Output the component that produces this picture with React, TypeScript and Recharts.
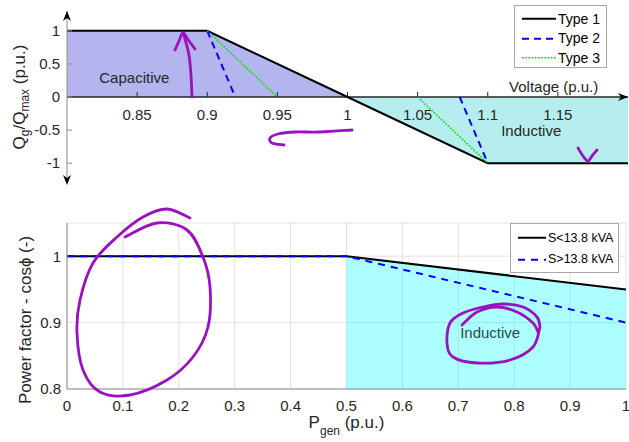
import React from "react";
import {
  ComposedChart,
  Line,
  Area,
  XAxis,
  YAxis,
  CartesianGrid,
  ReferenceLine,
  ReferenceDot,
  Legend,
} from "recharts";

const FONT = '"Liberation Sans", Arial, Helvetica, sans-serif';
const TEXT = "#262626";
const AXIS = "#8c8c8c";
const INK = "#9b10c0";

// ---- top panel: Q/Qmax vs voltage ----
const VOLT_TICKS = [0.85, 0.9, 0.95, 1, 1.05, 1.1, 1.15];
const Q_TICKS = [-1, -0.5, 0, 0.5, 1];

const TYPE1_V = [0.8, 0.9, 1.0, 1.1, 1.2];
const TYPE1_Q = [1, 1, 0, -1, -1];
const TYPE2_V = [0.9, 0.92, 1.0, 1.08, 1.1];
const TYPE2_Q = [1, 0, null, 0, -1];
const TYPE3_V = [0.9, 0.95, 1.0, 1.05, 1.1];
const TYPE3_Q = [1, 0, null, 0, -1];

// ---- bottom panel: power factor vs Pgen ----
const P_TICKS = [0, 0.1, 0.2, 0.3, 0.4, 0.5, 0.6, 0.7, 0.8, 0.9, 1];
const PF_TICKS = [0.8, 0.9, 1];
const P_GEN = [0, 0.5, 1];
const PF_SMALL = [1, 1, 0.95]; // S < 13.8 kVA
const PF_LARGE = [1, 1, 0.9]; // S > 13.8 kVA

const toRows = (xs: number[], ys: (number | null)[]) =>
  xs.map((v, i) => ({ v, q: ys[i] }));

const type1 = toRows(TYPE1_V, TYPE1_Q);
const type2 = toRows(TYPE2_V, TYPE2_Q);
const type3 = toRows(TYPE3_V, TYPE3_Q);
const capacitive = type1.filter((r) => r.v <= 1);
const inductive = type1.filter((r) => r.v >= 1);

const pfRows = P_GEN.map((p, i) => ({ p, small: PF_SMALL[i], large: PF_LARGE[i] }));
const pfFill = pfRows.filter((r) => r.p >= 0.5);

const TOP_W = 629;
const TOP_H = 200;
const TOP_MARGIN = { top: 11, right: 1, bottom: 0, left: 0 };
const TOP_XAXIS_H = 17;
const TOP_PLOT_H = TOP_H - TOP_MARGIN.top - TOP_MARGIN.bottom - TOP_XAXIS_H;

const BOT_H = 242;
const BOT_MARGIN = { top: 23, right: 3, bottom: 0, left: 0 };

function Arrow({ cx, cy, angle }: any) {
  return (
    <polygon
      points={`${cx},${cy} ${cx + 4},${cy + 10} ${cx},${cy + 7} ${cx - 4},${cy + 10}`}
      transform={`rotate(${angle}, ${cx}, ${cy})`}
      fill="#000"
    />
  );
}

// x ticks sit on the y=0 line (middle of the symmetric domain)
function VoltTick({ x, y, payload }: any) {
  const y0 = y - TOP_PLOT_H / 2;
  return (
    <g>
      <line x1={x} x2={x} y1={y0} y2={y0 - 5} stroke={TEXT} />
      <text x={x} y={y0 + 23} textAnchor="middle" fontSize={15} fill={TEXT}>
        {payload.value}
      </text>
    </g>
  );
}

function QTick({ x, y, payload }: any) {
  return (
    <g>
      <line x1={x + 7} x2={x + 12} y1={y} y2={y} stroke={AXIS} />
      <text x={x} y={y} dy={5} textAnchor="end" fontSize={15} fill={TEXT}>
        {payload.value}
      </text>
    </g>
  );
}

function TopYLabel({ viewBox }: any) {
  const cx = 25;
  const cy = viewBox.y + viewBox.height / 2;
  return (
    <text
      x={cx}
      y={cy}
      transform={`rotate(-90, ${cx}, ${cy})`}
      textAnchor="middle"
      fontSize={17}
      fill={TEXT}
    >
      Q<tspan fontSize={12} dy={4}>g</tspan>
      <tspan dy={-4}>/Q</tspan>
      <tspan fontSize={12} dy={4}>max</tspan>
      <tspan dy={-4}> (p.u.)</tspan>
    </text>
  );
}

function BotYLabel({ viewBox }: any) {
  const cx = 31;
  const cy = viewBox.y + viewBox.height / 2 + 14;
  return (
    <text
      x={cx}
      y={cy}
      transform={`rotate(-90, ${cx}, ${cy})`}
      textAnchor="middle"
      fontSize={17}
      fill={TEXT}
    >
      Power factor - cosϕ (-)
    </text>
  );
}

function PLabel({ viewBox }: any) {
  const cx = viewBox.x + viewBox.width / 2;
  return (
    <text x={cx} y={viewBox.y + 39} textAnchor="middle" fontSize={17} fill={TEXT}>
      P<tspan fontSize={12} dy={7}>gen</tspan>
      <tspan dy={-7}> (p.u.)</tspan>
    </text>
  );
}

function LegendBox({ payload, width, height, fontSize, lineLen, padTop, rowH }: any) {
  const items = (payload || []).filter((e: any) => e.type !== "none");
  return (
    <div
      style={{
        width,
        height,
        boxSizing: "border-box",
        border: "1px solid #a8a8a8",
        background: "#fff",
        paddingTop: padTop,
        fontFamily: FONT,
        fontSize,
        color: "#000",
      }}
    >
      {items.map((e: any) => (
        <div key={e.value} style={{ display: "flex", alignItems: "center", height: rowH }}>
          <svg width={lineLen + 10} height={rowH} style={{ marginLeft: 6 }}>
            <line
              x1={1}
              x2={lineLen + 1}
              y1={rowH / 2}
              y2={rowH / 2}
              stroke={e.color}
              strokeWidth={e.payload?.strokeWidth ?? 2}
              strokeDasharray={e.payload?.strokeDasharray}
            />
          </svg>
          <span style={{ marginLeft: -7, whiteSpace: "nowrap" }}>{e.value}</span>
        </div>
      ))}
    </div>
  );
}

function smooth(pts: number[][]) {
  let d = `M${pts[0][0]} ${pts[0][1]}`;
  for (let i = 0; i < pts.length - 1; i++) {
    const p0 = pts[i - 1] || pts[i];
    const p1 = pts[i];
    const p2 = pts[i + 1];
    const p3 = pts[i + 2] || p2;
    const c1 = [p1[0] + (p2[0] - p0[0]) / 6, p1[1] + (p2[1] - p0[1]) / 6];
    const c2 = [p2[0] - (p3[0] - p1[0]) / 6, p2[1] - (p3[1] - p1[1]) / 6];
    d += ` C${c1[0]} ${c1[1]} ${c2[0]} ${c2[1]} ${p2[0]} ${p2[1]}`;
  }
  return d;
}

// hand-drawn markup on top of the figure
const SCRIBBLES = [
  [[192, 97], [191, 75], [189, 55], [185, 39], [183, 33]],
  [[175, 50], [179, 41], [183, 33], [189, 41], [195, 49]],
  [[352, 130], [320, 132], [295, 132], [278, 134], [270, 138], [272, 143], [284, 145]],
  [[578, 148], [583, 156], [588, 161], [592, 156], [597, 150]],
  [
    [125, 237], [157, 223], [187, 230], [203, 257], [210, 287], [208, 327], [193, 357],
    [167, 380], [130, 395], [100, 392], [83, 370], [77, 333], [80, 300], [93, 263],
    [117, 237], [143, 217], [167, 209], [190, 218],
  ],
  [[462, 325], [477, 312], [497, 307], [517, 312], [533, 323], [538, 332]],
  [
    [540, 327], [533, 347], [510, 360], [477, 363], [453, 357], [447, 343], [450, 323],
    [463, 313], [483, 307], [503, 304], [523, 307], [537, 317], [540, 327],
  ],
];

export default function App() {
  return (
    <div
      style={{
        position: "absolute",
        left: 0,
        top: 0,
        width: 629,
        height: 442,
        background: "#fff",
        fontFamily: FONT,
      }}
    >
      <ComposedChart width={TOP_W} height={TOP_H} margin={TOP_MARGIN}>
        <XAxis
          type="number"
          dataKey="v"
          domain={[0.8, 1.2]}
          ticks={VOLT_TICKS}
          interval={0}
          allowDataOverflow
          axisLine={false}
          tickLine={false}
          tickSize={0}
          tickMargin={0}
          height={TOP_XAXIS_H}
          tick={<VoltTick />}
        />
        <YAxis
          type="number"
          domain={[-1.3, 1.3]}
          ticks={Q_TICKS}
          interval={0}
          width={67}
          axisLine={{ stroke: AXIS }}
          tickLine={false}
          tickSize={0}
          tickMargin={7}
          tick={<QTick />}
          label={{ content: (p: any) => <TopYLabel {...p} /> }}
        />
        <Area
          data={capacitive}
          dataKey="q"
          type="linear"
          baseValue={0}
          stroke="none"
          fill="#b4b4ee"
          fillOpacity={1}
          legendType="none"
          isAnimationActive={false}
        />
        <Area
          data={inductive}
          dataKey="q"
          type="linear"
          baseValue={0}
          stroke="none"
          fill="#b6eef0"
          fillOpacity={1}
          legendType="none"
          isAnimationActive={false}
        />
        <ReferenceLine y={0} stroke={TEXT} strokeWidth={1.3} />
        <ReferenceDot x={1.2} y={0} ifOverflow="visible" shape={(p: any) => <Arrow cx={p.cx} cy={p.cy} angle={90} />} />
        <ReferenceDot x={0.8} y={1.3} ifOverflow="visible" shape={(p: any) => <Arrow cx={p.cx} cy={p.cy} angle={0} />} />
        <ReferenceDot x={0.8} y={-1.3} ifOverflow="visible" shape={(p: any) => <Arrow cx={p.cx} cy={p.cy + 2} angle={180} />} />
        <ReferenceDot
          x={0.848}
          y={0.29}
          r={0}
          fill="none"
          stroke="none"
          label={{ value: "Capacitive", position: "center", fill: TEXT, fontSize: 15 }}
        />
        <ReferenceDot
          x={1.131}
          y={-0.515}
          r={0}
          fill="none"
          stroke="none"
          label={{ value: "Inductive", position: "center", fill: TEXT, fontSize: 15 }}
        />
        <ReferenceDot
          x={1.147}
          y={0.15}
          r={0}
          fill="none"
          stroke="none"
          label={{ value: "Voltage (p.u.)", position: "center", fill: TEXT, fontSize: 15 }}
        />
        <Line
          data={type1}
          dataKey="q"
          name="Type 1"
          type="linear"
          stroke="#000"
          strokeWidth={2}
          dot={false}
          isAnimationActive={false}
        />
        <Line
          data={type2}
          dataKey="q"
          name="Type 2"
          type="linear"
          stroke="#0000ff"
          strokeWidth={2}
          strokeDasharray="7 5"
          dot={false}
          isAnimationActive={false}
        />
        <Line
          data={type3}
          dataKey="q"
          name="Type 3"
          type="linear"
          stroke="#00e000"
          strokeWidth={1.6}
          strokeDasharray="1.6 1.6"
          dot={false}
          isAnimationActive={false}
        />
        <Legend
          layout="vertical"
          align="center"
          verticalAlign="middle"
          wrapperStyle={{ left: 514, top: 5, width: 93, height: 63 }}
          content={(p: any) => (
            <LegendBox {...p} width={93} height={63} fontSize={14} lineLen={34} padTop={3} rowH={19.5} />
          )}
        />
      </ComposedChart>

      <ComposedChart width={TOP_W} height={BOT_H} margin={BOT_MARGIN} data={pfRows}>
        <CartesianGrid stroke="#e2e2e2" />
        <XAxis
          type="number"
          dataKey="p"
          domain={[0, 1]}
          ticks={P_TICKS}
          interval={0}
          axisLine={{ stroke: AXIS }}
          tickLine={false}
          tickSize={0}
          tickMargin={11}
          height={53}
          tick={{ fontSize: 15, fill: TEXT }}
          label={{ content: (p: any) => <PLabel {...p} /> }}
        />
        <YAxis
          type="number"
          domain={[0.8, 1.05]}
          ticks={PF_TICKS}
          interval={0}
          width={67}
          axisLine={{ stroke: AXIS }}
          tickLine={false}
          tickSize={0}
          tickMargin={6}
          tick={{ fontSize: 15, fill: TEXT }}
          label={{ content: (p: any) => <BotYLabel {...p} /> }}
        />
        <Area
          data={pfFill}
          dataKey="small"
          type="linear"
          baseValue={0.8}
          stroke="none"
          fill="#00ffff"
          fillOpacity={0.32}
          legendType="none"
          isAnimationActive={false}
        />
        <ReferenceDot
          x={0.757}
          y={0.885}
          r={0}
          fill="none"
          stroke="none"
          label={{ value: "Inductive", position: "center", fill: "#2a4a4a", fontSize: 15 }}
        />
        <Line
          dataKey="small"
          name="S<13.8 kVA"
          type="linear"
          stroke="#000"
          strokeWidth={2}
          dot={false}
          isAnimationActive={false}
        />
        <Line
          dataKey="large"
          name="S>13.8 kVA"
          type="linear"
          stroke="#0000ff"
          strokeWidth={2}
          strokeDasharray="7 6"
          dot={false}
          isAnimationActive={false}
        />
        <Legend
          layout="vertical"
          align="center"
          verticalAlign="middle"
          wrapperStyle={{ left: 510, top: 23, width: 109, height: 50 }}
          content={(p: any) => (
            <LegendBox {...p} width={109} height={50} fontSize={12.5} lineLen={28} padTop={3} rowH={21.5} />
          )}
        />
      </ComposedChart>

      <svg
        width={629}
        height={442}
        style={{ position: "absolute", left: 0, top: 0, pointerEvents: "none" }}
      >
        {SCRIBBLES.map((pts, i) => (
          <path
            key={i}
            d={smooth(pts)}
            fill="none"
            stroke={INK}
            strokeWidth={2.8}
            strokeLinecap="round"
            strokeLinejoin="round"
          />
        ))}
      </svg>
    </div>
  );
}
